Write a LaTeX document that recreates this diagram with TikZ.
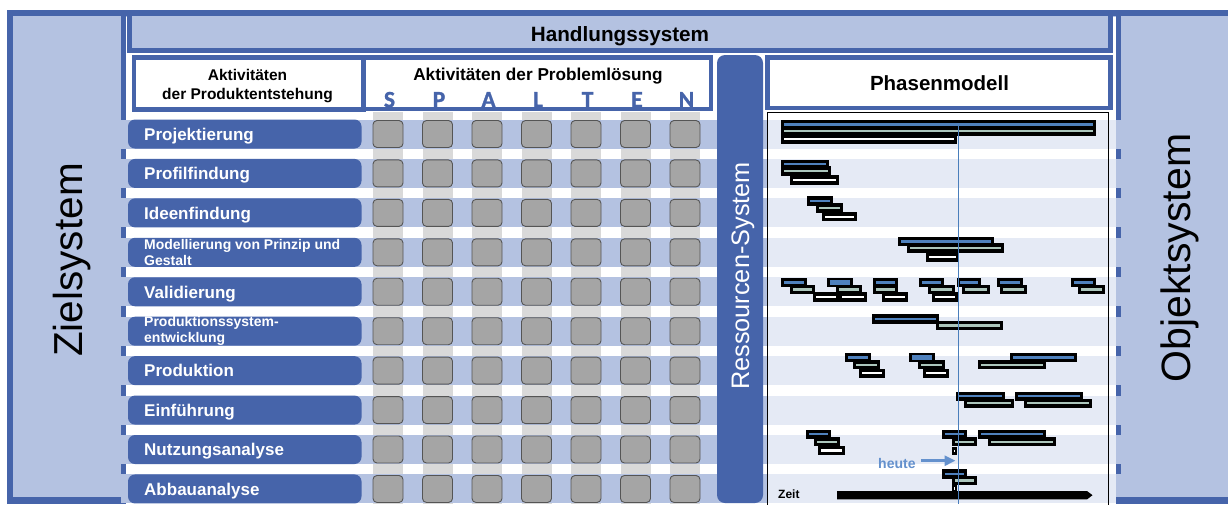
\documentclass[tikz,border=0pt]{standalone}
\usepackage{fontspec}
\setmainfont{Liberation Sans}
\newfontfamily\spaltenfont{Carlito}[BoldFeatures={FakeBold=1.2}]
\usetikzlibrary{arrows.meta}
\definecolor{dblue}{RGB}{70,100,170}
\definecolor{lblue}{RGB}{180,194,225}
\definecolor{pblue}{RGB}{229,234,245}
\definecolor{sqgray}{RGB}{165,165,165}
\definecolor{sqline}{RGB}{85,85,85}
\definecolor{colgray}{RGB}{217,217,217}
\definecolor{gblue}{RGB}{79,129,189}
\definecolor{gsage}{RGB}{172,198,188}
\definecolor{hblue}{RGB}{100,145,205}
\definecolor{nowline}{RGB}{74,126,187}
\newcommand{\ganttbar}[5][2.3]{%
  \fill[black] (#2,#4-4.7) rectangle (#3,#4+4.7);
  \fill[#5] (#2+3.2,#4-#1/2) rectangle (#3-3.2,#4+#1/2);}
\newcommand{\ganttdot}[2]{%
  \fill[black] (#1,#2-4.2) rectangle (#1+5.5,#2+4.2);
  \fill[white] (#1+1.8,#2-1.1) rectangle (#1+3.7,#2+1.1);}
\begin{document}
\begin{tikzpicture}[x=1pt,y=-1pt,
  hdrbox/.style={draw=dblue,fill=white,line width=4.5pt},
  lblbox/.style={fill=dblue,rounded corners=7pt,minimum width=233.5pt,minimum height=29pt,inner sep=0pt},
  sq/.style={fill=sqgray,draw=sqline,line width=0.9pt,rounded corners=4pt,minimum width=30pt,minimum height=27pt,inner sep=0pt},
  lbltxt/.style={text=white,font=\bfseries\fontsize{17}{20}\selectfont,inner sep=0pt,anchor=base west},
  lblsmall/.style={text=white,font=\bfseries\fontsize{14}{16}\selectfont,inner sep=0pt,anchor=base west},
  hdrtxt/.style={font=\bfseries\fontsize{15.5}{18}\selectfont,inner sep=0pt,anchor=base},
  letter/.style={text=dblue,font=\spaltenfont\bfseries\fontsize{23.5}{26}\selectfont,inner sep=0pt,anchor=base},
  vtext/.style={rotate=90,anchor=base,inner sep=0pt}
  ]
\useasboundingbox (0,0) rectangle (1228,504);
\clip (0,0) rectangle (1228,504);
% outer frame
\filldraw[fill=lblue,draw=dblue,line width=6.5pt] (10,13.2) rectangle (1260,500.7);
% white working area
\fill[white] (125.5,16.5) rectangle (1115.5,504);
% upper parts of boundary lines
\fill[dblue] (121,13) rectangle (125.5,120);
\fill[dblue] (1115.5,13) rectangle (1121,120);
% top band
\filldraw[fill=lblue,draw=dblue,line width=5pt] (129.5,13) rectangle (1110.5,50.5);
\node[font=\bfseries\fontsize{20.7}{24}\selectfont,inner sep=0pt,anchor=base] (handlung) at (620,41.7) {Handlungssystem};
% header boxes
\draw[hdrbox] (134,57.5) rectangle (363.5,109.3);
\draw[hdrbox] (364,57.5) rectangle (711,109);
\draw[hdrbox] (767.5,57.5) rectangle (1110.5,108);
\node[hdrtxt] (akt1) at (247.5,80) {Aktivitäten};
\node[hdrtxt] (akt2) at (247.5,99.3) {der Produktentstehung};
\node[hdrtxt,font=\bfseries\fontsize{17.2}{20}\selectfont] (prob) at (538,80) {Aktivitäten der Problemlösung};
\node[hdrtxt,font=\bfseries\fontsize{20.5}{24}\selectfont] (phasen) at (939.5,90.7) {Phasenmodell};
\foreach \l [count=\k from 0] in {S,P,A,L,T,E,N}
  \node[letter] (let\k) at (389.5+49.5*\k,107.3) {\l};
% column stripes
\foreach \k in {0,...,6} \fill[colgray] (373+49.5*\k,112) rectangle (403+49.5*\k,504);
% row bands
\foreach \i in {0,...,9} {
  \pgfmathsetmacro\c{134+39.44*\i}
  \fill[lblue] (121,\c-14.5) rectangle (768,\c+14.5);
  \fill[pblue] (768,\c-14.5) rectangle (1115.5,\c+14.5);
}
\foreach \i in {0,...,8} {
  \pgfmathsetmacro\c{134+39.44*\i}
  \fill[dblue] (121,\c+14.5) rectangle (125.5,\c+24.94);
  \fill[dblue] (1115.5,\c+14.5) rectangle (1121,\c+24.94);
}
% phase model frame
\draw[black,line width=1pt] (767.5,112) rectangle (1108.5,520);
% resource column
\fill[dblue,rounded corners=8pt] (717,55) rectangle (763,503);
\node[vtext,text=white,font=\fontsize{25.3}{28}\selectfont] (ress) at (749,276) {Ressourcen-System};
% side systems
\node[vtext,font=\fontsize{40.5}{44}\selectfont] (ziel) at (82,260) {Zielsystem};
\node[vtext,font=\fontsize{41}{44}\selectfont] (objekt) at (1190,258) {Objektsystem};
% label boxes and squares
\foreach \i in {0,...,9} {
  \pgfmathsetmacro\c{134+39.44*\i}
  \node[lblbox] (box\i) at (244.75,\c) {};
  \foreach \k in {0,...,6}
    \node[sq] (sq\i\k) at (388+49.5*\k,\c) {};
}
\node[lbltxt] (t0) at (144,140.3) {Projektierung};
\node[lbltxt] (t1) at (144,179.7) {Profilfindung};
\node[lbltxt] (t2) at (144,219.2) {Ideenfindung};
\node[lblsmall] (t3a) at (144,249.3) {Modellierung von Prinzip und};
\node[lblsmall] (t3b) at (144,265) {Gestalt};
\node[lbltxt] (t4) at (144,298.1) {Validierung};
\node[lblsmall] (t5a) at (144,326) {Produktionssystem-};
\node[lblsmall] (t5b) at (144,342) {entwicklung};
\node[lbltxt] (t6) at (144,376.9) {Produktion};
\node[lbltxt] (t7) at (144,416) {Einführung};
\node[lbltxt] (t8) at (144,455.5) {Nutzungsanalyse};
\node[lbltxt] (t9) at (144,495.2) {Abbauanalyse};
% gantt bars
% row 0
\ganttbar{781}{1096}{124.5}{gblue}
\ganttbar{781}{1096}{131.3}{gsage}
\ganttbar{781}{957}{139.3}{white}
% row 1
\ganttbar{781}{829}{164.3}{gblue}
\ganttbar{781}{831}{171}{gsage}
\ganttbar{790}{839}{180}{white}
% row 2
\ganttbar{807}{833}{201}{gblue}
\ganttbar{816}{843}{207.8}{gsage}
\ganttbar{822}{857}{216.7}{white}
% row 3
\ganttbar{898}{994}{241.5}{gblue}
\ganttbar{907}{1004}{248}{gsage}
\ganttbar{926}{959}{257}{white}
% row 4
\ganttbar{781}{807}{282.5}{gblue}
\ganttbar{790}{815}{289.5}{gsage}
\ganttbar{813}{839}{297}{white}
\ganttbar[5]{827}{853}{282.5}{gblue}
\ganttbar{836}{862}{289.5}{gsage}
\ganttbar{839}{867}{297}{white}
\ganttbar{873}{898}{282.5}{gblue}
\ganttbar{873}{898}{289.5}{gsage}
\ganttbar{882}{908}{297}{white}
\ganttbar{919}{944}{282.5}{gblue}
\ganttbar{928}{955}{289.5}{gsage}
\ganttbar{932}{958}{297}{white}
\ganttbar{957}{981}{282.5}{gblue}
\ganttbar{962}{990}{289.5}{gsage}
\ganttbar{997}{1023}{282.5}{gblue}
\ganttbar{1000}{1027}{289.5}{gsage}
\ganttbar{1071}{1096}{282.5}{gblue}
\ganttbar{1078}{1105}{289.5}{gsage}
% row 5
\ganttbar{872}{939}{318.8}{gblue}
\ganttbar{936}{1003}{325.5}{gsage}
% row 6
\ganttbar{845}{871}{357.5}{gblue}
\ganttbar{853}{880}{364.7}{gsage}
\ganttbar{859}{885}{373.3}{white}
\ganttbar[4.5]{909}{935}{357.5}{gblue}
\ganttbar{918}{945}{364.7}{gsage}
\ganttbar{923}{949}{373.3}{white}
\ganttbar{1010}{1077}{357.5}{gblue}
\ganttbar{978}{1046}{364.7}{gsage}
% row 7
\ganttbar{956}{1005}{396.2}{gblue}
\ganttbar{964}{1014}{403.3}{gsage}
\ganttbar{1015}{1083}{396.2}{gblue}
\ganttbar{1024}{1092}{403.3}{gsage}
% row 8
\ganttbar{806}{831}{434.2}{gblue}
\ganttbar{814}{840}{441.7}{gsage}
\ganttbar{818}{845}{450.5}{white}
\ganttbar{942}{967}{434.2}{gblue}
\ganttbar{952}{977}{441.7}{gsage}
\ganttdot{951.7}{451}
\ganttbar{978}{1046}{434.2}{gblue}
\ganttbar{988}{1056}{441.7}{gsage}
% row 9
\ganttbar{942}{967}{473.8}{gblue}
\ganttbar{952}{977}{480.5}{gsage}
\ganttdot{951.7}{488.5}
% time axis
\fill[black] (837,491) -- (1087,491) -- (1092.5,495.2) -- (1087,499.4) -- (837,499.4) -- cycle;
\node[font=\bfseries\fontsize{12}{14}\selectfont,anchor=base west,inner sep=0pt] (zeit) at (778,498) {Zeit};
% today line
\draw[nowline,line width=1.2pt] (958.3,125) -- (958.3,504);
\node[text=hblue,font=\bfseries\fontsize{14}{16}\selectfont,anchor=base west,inner sep=0pt] (heute) at (878,468.3) {heute};
\coordinate (heutetip) at (955.5,460.7);
\draw[hblue,line width=3pt,-{Triangle[length=11pt,width=10pt]},shorten <=5pt] (heute.east |- heutetip) -- (heutetip);
\end{tikzpicture}
\end{document}
